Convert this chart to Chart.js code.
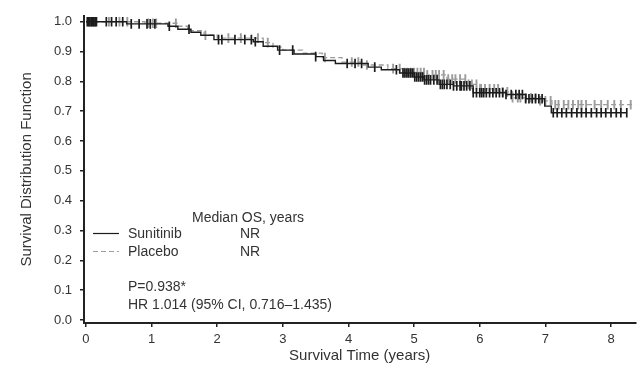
<!DOCTYPE html>
<html>
<head>
<meta charset="utf-8">
<script src="https://cdn.jsdelivr.net/npm/chart.js@4/dist/chart.umd.min.js"></script>
<style>
  body{margin:0;background:#fff}
  #wrap{width:642px;height:365px}
</style>
</head>
<body>
<div id="wrap"><canvas id="myChart" width="642" height="365"></canvas></div>
<script>
// Kaplan-Meier steps (time in years, survival after that time)
var sunTime=[0,0.62,1.25,1.4,1.6,1.75,1.95,2.55,2.7,2.92,3.17,3.5,3.62,3.8,4.3,4.5,4.78,5.0,5.15,5.38,5.6,5.9,6.4,6.7,6.99,7.09,8.24]
var sunSurv=[1.0,0.993,0.985,0.975,0.965,0.955,0.94,0.933,0.918,0.905,0.892,0.883,0.87,0.86,0.848,0.839,0.828,0.815,0.805,0.79,0.785,0.762,0.756,0.742,0.717,0.695,0.695]
var sunCens=[0.02,0.04,0.06,0.08,0.1,0.12,0.14,0.16,0.31,0.39,0.46,0.56,0.69,0.81,0.93,0.98,1.05,1.27,1.57,2.02,2.07,2.27,2.42,2.52,2.58,2.95,3.15,3.5,3.98,4.1,4.2,4.4,4.73,
  4.83,4.86,4.89,4.92,4.95,4.98,5.01,5.04,5.07,5.1,5.13,5.16,5.19,5.22,5.25,5.3,5.35,5.4,5.43,5.46,5.5,5.55,5.6,5.65,5.7,5.72,5.76,5.8,5.85,5.9,5.95,
  6.0,6.03,6.06,6.1,6.15,6.2,6.25,6.3,6.35,6.4,6.48,6.55,6.6,6.65,6.7,6.75,6.8,6.85,6.9,6.95,7.12,7.18,7.25,7.32,7.4,7.48,7.55,7.62,7.7,7.78,7.85,7.92,8.0,8.08,8.15,8.24]

var plaTime=[0,0.9,1.4,1.55,1.8,2.0,2.7,2.85,3.0,3.3,3.6,3.9,4.2,4.6,4.85,5.2,5.5,5.8,6.0,6.3,6.5,6.9,7.1,8.37]
var plaSurv=[1.0,0.995,0.985,0.97,0.955,0.945,0.93,0.915,0.905,0.895,0.88,0.865,0.855,0.843,0.83,0.822,0.808,0.79,0.775,0.765,0.745,0.735,0.722,0.722]
var plaCens=[0.05,0.09,0.13,0.35,0.51,0.63,0.95,1.02,1.07,1.37,1.82,2.17,2.36,2.62,2.77,3.64,4.05,4.15,4.28,4.68,4.78,
  4.85,4.9,4.95,5.0,5.05,5.1,5.15,5.2,5.28,5.33,5.38,5.45,5.52,5.58,5.63,5.7,5.78,5.83,5.88,5.95,6.02,6.08,6.15,6.22,6.28,6.35,6.42,6.5,6.58,6.62,6.7,6.78,6.85,6.92,7.0,
  7.08,7.15,7.2,7.28,7.35,7.42,7.5,7.55,7.62,7.75,7.85,7.95,8.05,8.15,8.3]

var xTicks=[0,1,2,3,4,5,6,7,8]
var yTicks=[0,0.1,0.2,0.3,0.4,0.5,0.6,0.7,0.8,0.9,1.0]

var black="#1c1c1c"
var grey="#9c9c9c"
var txt="#333"
var fnt='"Liberation Sans", Arial, sans-serif'

function steps(t,s){
    var pts=[]
    for(var i=0;i<t.length;i++) pts.push({x:t[i],y:s[i]})
    return pts
}
function survAt(t,s,x){
    var v=s[0]
    for(var i=0;i<t.length;i++){ if(t[i]<=x) v=s[i] }
    return v
}
function marks(c,t,s){
    return c.map(function(x){ return {x:x,y:survAt(t,s,x)} })
}

var notes={
    id:"notes",
    afterDatasetsDraw:function(chart){
        var ctx=chart.ctx
        ctx.save()
        ctx.font="14px "+fnt
        ctx.fillStyle=txt
        ctx.textBaseline="alphabetic"
        ctx.fillText("Median OS, years",192,222)
        ctx.fillText("Sunitinib",128,238)
        ctx.fillText("NR",240,238)
        ctx.fillText("Placebo",128,256)
        ctx.fillText("NR",240,256)
        ctx.fillText("P=0.938*",128,291)
        ctx.fillText("HR 1.014 (95% CI, 0.716\u20131.435)",128,309)
        ctx.lineWidth=1.2
        ctx.strokeStyle=black
        ctx.beginPath();ctx.moveTo(93,233.5);ctx.lineTo(119,233.5);ctx.stroke()
        ctx.strokeStyle=grey
        ctx.setLineDash([5,3])
        ctx.beginPath();ctx.moveTo(93,251.5);ctx.lineTo(119,251.5);ctx.stroke()
        ctx.restore()
    }
}

var myChart=document.getElementById("myChart").getContext("2d")
var chart=new Chart(myChart,{
    type:"line",
    data:{
        datasets:[
            {label:"Sunitinib",data:steps(sunTime,sunSurv),borderColor:black,borderWidth:1.4,pointRadius:0,stepped:"before",fill:false,order:1},
            {label:"Sunitinib censored",data:marks(sunCens,sunTime,sunSurv),showLine:false,pointStyle:"line",rotation:90,pointRadius:4.8,borderColor:black,pointBorderWidth:1.7,order:0},
            {label:"Placebo",data:steps(plaTime,plaSurv),borderColor:grey,borderWidth:1.3,borderDash:[5,3],pointRadius:0,stepped:"before",fill:false,order:3},
            {label:"Placebo censored",data:marks(plaCens,plaTime,plaSurv),showLine:false,pointStyle:"line",rotation:90,pointRadius:4.8,borderColor:grey,pointBorderWidth:1.9,order:2}
        ]
    },
    options:{
        responsive:false,
        animation:false,
        layout:{padding:{top:13,right:0,left:0,bottom:0}},
        plugins:{legend:{display:false},tooltip:{enabled:false}},
        scales:{
            x:{
                type:"linear",min:-0.03,max:8.37,
                afterBuildTicks:function(s){ s.ticks=xTicks.map(function(v){return {value:v}}) },
                afterFit:function(s){ s.height=42 },
                ticks:{color:txt,font:{family:fnt,size:13},padding:5,maxRotation:0},
                grid:{drawOnChartArea:false,drawTicks:true,tickLength:4,color:"#222",lineWidth:1.5},
                border:{display:true,color:"#222",width:2},
                title:{display:true,text:"Survival Time (years)",color:txt,font:{family:fnt,size:15},padding:{top:0,bottom:0}}
            },
            y:{
                type:"linear",min:-0.01,max:1.02,
                afterBuildTicks:function(s){ s.ticks=yTicks.map(function(v){return {value:v}}) },
                afterFit:function(s){ s.width=84 },
                ticks:{color:txt,font:{family:fnt,size:13},padding:8,callback:function(v){return v.toFixed(1)}},
                grid:{drawOnChartArea:false,drawTicks:true,tickLength:4,color:"#222",lineWidth:1.5},
                border:{display:true,color:"#222",width:2},
                title:{display:true,text:"Survival Distribution Function",color:txt,font:{family:fnt,size:15},padding:{top:18,bottom:0}}
            }
        }
    },
    plugins:[notes]
})
</script>
</body>
</html>
